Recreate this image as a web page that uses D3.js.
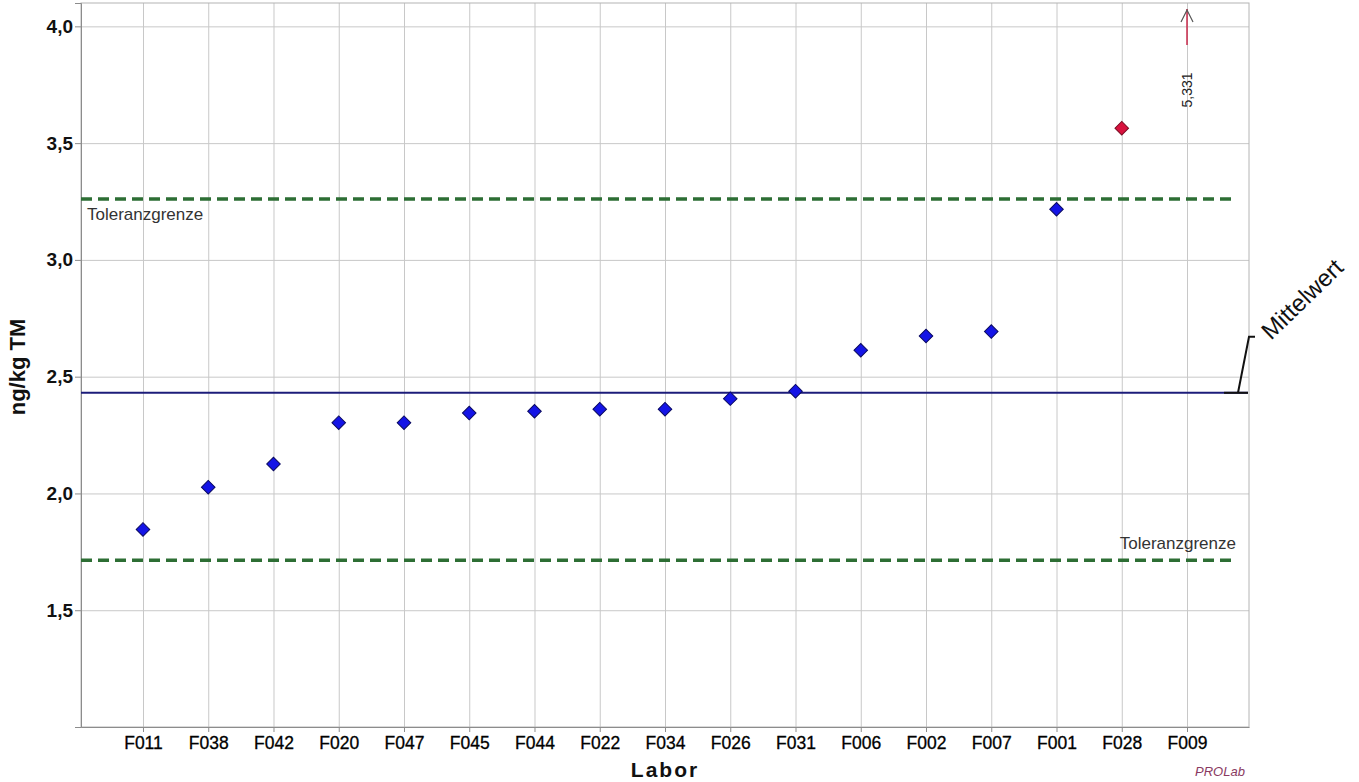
<!DOCTYPE html>
<html>
<head>
<meta charset="utf-8">
<script src="https://cdn.jsdelivr.net/npm/d3@7"></script>
<style>
  body { margin: 0; background: #fff; }
  text { font-family: Arial, "Liberation Sans", sans-serif; }
</style>
</head>
<body>
<div id="chart"></div>
<script>
// Data
const labs = ["F011", "F038", "F042", "F020", "F047", "F045", "F044", "F022", "F034",
              "F026", "F031", "F006", "F002", "F007", "F001", "F028", "F009"];
const values = [1.846, 2.027, 2.126, 2.303, 2.303, 2.344, 2.352, 2.361, 2.361,
                2.406, 2.438, 2.613, 2.674, 2.693, 3.217, 3.564, 5.331];
const yTicks = [1.5, 2.0, 2.5, 3.0, 3.5, 4.0];
const meanValue = 2.431;
const tolUpper = 3.261;
const tolLower = 1.714;

const width = 1359;
const height = 782;
const margin = { top: 3, right: 110, bottom: 55, left: 81 };

const svg = d3.select("#chart")
  .append("svg")
    .attr("width", width)
    .attr("height", height);

// Scales
const xScale = d3.scalePoint()
  .domain(labs)
  .range([margin.left, width - margin.right])
  .padding(0.95);

const yScale = d3.scaleLinear()
  .domain([1.0, 4.1])
  .range([height - margin.bottom, margin.top]);

const x0 = margin.left, x1 = width - margin.right;
const y0 = height - margin.bottom, y1 = margin.top;
const fmt = d => d3.format(".1f")(d).replace(".", ",");

// Grid lines
svg.append("g")
    .attr("class", "grid-y")
    .attr("transform", `translate(${x0}, 0)`)
    .call(d3.axisLeft(yScale).tickValues(yTicks).tickSize(-(x1 - x0)).tickFormat(""))
    .call(g => g.select(".domain").remove())
    .call(g => g.selectAll("line").attr("stroke", "#c8c8c8"));

svg.append("g")
    .attr("class", "grid-x")
    .attr("transform", `translate(0, ${y0})`)
    .call(d3.axisBottom(xScale).tickSize(-(y0 - y1)).tickFormat(""))
    .call(g => g.select(".domain").remove())
    .call(g => g.selectAll("line").attr("stroke", "#c8c8c8"));

// Plot frame
svg.append("rect")
    .attr("x", x0).attr("y", y1)
    .attr("width", x1 - x0).attr("height", y0 - y1)
    .attr("fill", "none")
    .attr("stroke", "#b4b4b4");

// Axes
svg.append("g")
    .attr("class", "axis-y")
    .attr("transform", `translate(${x0}, 0)`)
    .call(d3.axisLeft(yScale).tickValues(yTicks).tickSize(6).tickPadding(2).tickFormat(fmt))
    .call(g => g.select(".domain").attr("stroke", "#8c8c8c"))
    .call(g => g.selectAll("line").attr("stroke", "#8c8c8c"))
    .call(g => g.selectAll("text")
      .attr("font-size", 19).attr("font-weight", "bold").attr("fill", "#111")
      .attr("font-family", "Arial, 'Liberation Sans', sans-serif"));

svg.append("g")
    .attr("class", "axis-x")
    .attr("transform", `translate(0, ${y0})`)
    .call(d3.axisBottom(xScale).tickSize(5).tickPadding(5).tickSizeOuter(0))
    .call(g => g.select(".domain").attr("stroke", "#8c8c8c"))
    .call(g => g.selectAll("line").attr("stroke", "#8c8c8c"))
    .call(g => g.selectAll("text")
      .attr("font-size", 17.5).attr("fill", "#000")
      .attr("stroke", "#000").attr("stroke-width", 0.3)
      .attr("font-family", "Arial, 'Liberation Sans', sans-serif"));

// Axis titles
svg.append("text")
    .attr("transform", `translate(25, ${(y0 + y1) / 2 + 2}) rotate(-90)`)
    .attr("text-anchor", "middle")
    .attr("font-size", 22)
    .attr("font-weight", "bold")
    .attr("fill", "#111")
    .text("ng/kg TM");

svg.append("text")
    .attr("x", (x0 + x1) / 2)
    .attr("y", y0 + 50)
    .attr("text-anchor", "middle")
    .attr("font-size", 21)
    .attr("font-weight", "bold")
    .attr("letter-spacing", 2)
    .attr("fill", "#111")
    .text("Labor");

svg.append("text")
    .attr("x", x1 - 54)
    .attr("y", y0 + 49)
    .attr("font-size", 13)
    .attr("font-style", "italic")
    .attr("fill", "#8a3a62")
    .text("PROLab");

// Tolerance limits
[tolUpper, tolLower].forEach(v => {
  svg.append("line")
      .attr("x1", x0).attr("x2", x1 - 13)
      .attr("y1", yScale(v)).attr("y2", yScale(v))
      .attr("stroke", "#2d6e34")
      .attr("stroke-width", 3.5)
      .attr("stroke-dasharray", "11,6");
});

svg.append("text")
    .attr("x", x0 + 6)
    .attr("y", yScale(tolUpper) + 21)
    .attr("font-size", 17)
    .attr("fill", "#333")
    .text("Toleranzgrenze");

svg.append("text")
    .attr("x", x1 - 13)
    .attr("y", yScale(tolLower) - 11)
    .attr("text-anchor", "end")
    .attr("font-size", 17)
    .attr("fill", "#333")
    .text("Toleranzgrenze");

// Mean line
svg.append("line")
    .attr("x1", x0).attr("x2", x1 - 1)
    .attr("y1", yScale(meanValue)).attr("y2", yScale(meanValue))
    .attr("stroke", "#1c1c7a")
    .attr("stroke-width", 2);

svg.append("line")
    .attr("x1", x1 - 25).attr("x2", x1 - 1)
    .attr("y1", yScale(meanValue)).attr("y2", yScale(meanValue))
    .attr("stroke", "#111")
    .attr("stroke-width", 2);

svg.append("path")
    .attr("d", `M${x1 - 11},${yScale(meanValue)} L${x1},${yScale(meanValue) - 56} L${x1 + 6},${yScale(meanValue) - 56}`)
    .attr("fill", "none")
    .attr("stroke", "#111")
    .attr("stroke-width", 2);

svg.append("text")
    .attr("transform", `translate(${x1 + 22}, ${yScale(meanValue) - 52}) rotate(-44)`)
    .attr("font-size", 24)
    .attr("fill", "#111")
    .text("Mittelwert");

// Data points
const data = labs.map((lab, i) => ({ lab, value: values[i] }));
const maxY = yScale.domain()[1];

svg.selectAll(".data-point")
  .data(data.filter(d => d.value <= maxY))
  .join("path")
    .attr("class", "data-point")
    .attr("d", d3.symbol(d3.symbolSquare, 92))
    .attr("transform", d => `translate(${xScale(d.lab)}, ${yScale(d.value)}) rotate(45)`)
    .attr("fill", d => d.value > tolUpper ? "#d8123e" : "#1414e6")
    .attr("stroke", d => d.value > tolUpper ? "#7a0a20" : "#0a0a60")
    .attr("stroke-width", 1);

// Off-scale values: arrow with value label
const offScale = data.filter(d => d.value > maxY);
offScale.forEach(d => {
  const cx = xScale(d.lab);
  const yTop = yScale(maxY);
  svg.append("line")
      .attr("x1", cx).attr("x2", cx)
      .attr("y1", yTop + 42).attr("y2", yTop + 6)
      .attr("stroke", "#c8284a")
      .attr("stroke-width", 1.5);
  svg.append("path")
      .attr("d", `M${cx - 6},${yTop + 19} L${cx},${yTop + 7} L${cx + 6},${yTop + 19}`)
      .attr("fill", "none")
      .attr("stroke", "#555")
      .attr("stroke-width", 1.2);
  svg.append("text")
      .attr("transform", `translate(${cx + 5}, ${yTop + 87}) rotate(-90)`)
      .attr("text-anchor", "middle")
      .attr("font-size", 14)
      .attr("fill", "#222")
      .text(fmt3(d.value));
});

function fmt3(v) { return d3.format(".3f")(v).replace(".", ","); }
</script>
</body>
</html>
